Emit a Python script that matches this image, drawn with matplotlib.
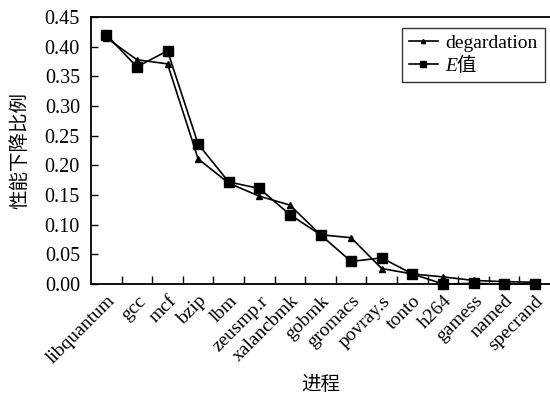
import matplotlib
matplotlib.use("Agg")
import matplotlib.pyplot as plt
import numpy as np

categories = ["libquantum", "gcc", "mcf", "bzip", "lbm", "zeusmp.r", "xalancbmk",
              "gobmk", "gromacs", "povray.s", "tonto", "h264", "gamess", "named", "specrand"]
degradation = [0.415, 0.378, 0.371, 0.211, 0.170, 0.148, 0.133, 0.083, 0.078, 0.026,
               0.017, 0.012, 0.006, 0.004, 0.003]
e_value = [0.420, 0.366, 0.393, 0.236, 0.172, 0.161, 0.117, 0.083, 0.038, 0.044,
           0.017, 0.000, 0.001, 0.000, 0.000]
yticks = [0.00, 0.05, 0.10, 0.15, 0.20, 0.25, 0.30, 0.35, 0.40, 0.45]

serif = ["Liberation Serif", "Noto Sans CJK SC"]
cjk = ["Noto Sans CJK SC", "Liberation Serif"]
plt.rcParams['font.family'] = serif

fig = plt.figure(figsize=(5.5, 3.96), dpi=100)
ax = fig.add_axes([91/550, 1-284/396, 459/550, 267/396])

x = np.arange(len(categories))
ax.plot(x, degradation, color="black", lw=1.2, marker="^", ms=5, label="degardation",
        clip_on=False, zorder=3)
ax.plot(x, e_value, color="black", lw=1.2, marker="s", ms=6.5, label="E值",
        clip_on=False, zorder=3)

ax.set_xlim(-0.5, len(categories) - 0.5)
ax.set_ylim(0, 0.45)
ax.set_yticks(yticks)
ax.set_yticklabels([f"{v:.2f}" for v in yticks], fontsize=14.5)
ax.set_xticks(np.arange(len(categories) - 1) + 0.5)
ax.set_xticklabels([])
ax.set_xticks(x, minor=True)
ax.set_xticklabels(categories, minor=True, rotation=45, ha="right", va="top",
                   rotation_mode="anchor", fontsize=14)
ax.tick_params(axis="x", which="minor", length=0, pad=6)
ax.tick_params(axis="x", which="major", direction="in", length=6, width=1)
ax.tick_params(axis="y", direction="in", length=5, width=1, pad=8)
for s in ["left", "bottom", "top"]:
    ax.spines[s].set_linewidth(1.3)
ax.spines["right"].set_visible(False)

ax.set_ylabel("性能下降比例", fontsize=14, family=cjk, labelpad=10)
ax.set_xlabel("进程", fontsize=14, family=cjk, labelpad=5)

leg = ax.legend(loc="upper right", bbox_to_anchor=(0.997, 0.975), fontsize=14,
                frameon=True, fancybox=False, edgecolor="black", handlelength=1.5,
                handletextpad=0.4, borderpad=0.35, labelspacing=0.25, markerscale=0.6,
                borderaxespad=0.2)
leg.get_frame().set_linewidth(1.0)
leg.get_texts()[1].set_fontstyle("italic")

fig.savefig("out.png", dpi=100)
